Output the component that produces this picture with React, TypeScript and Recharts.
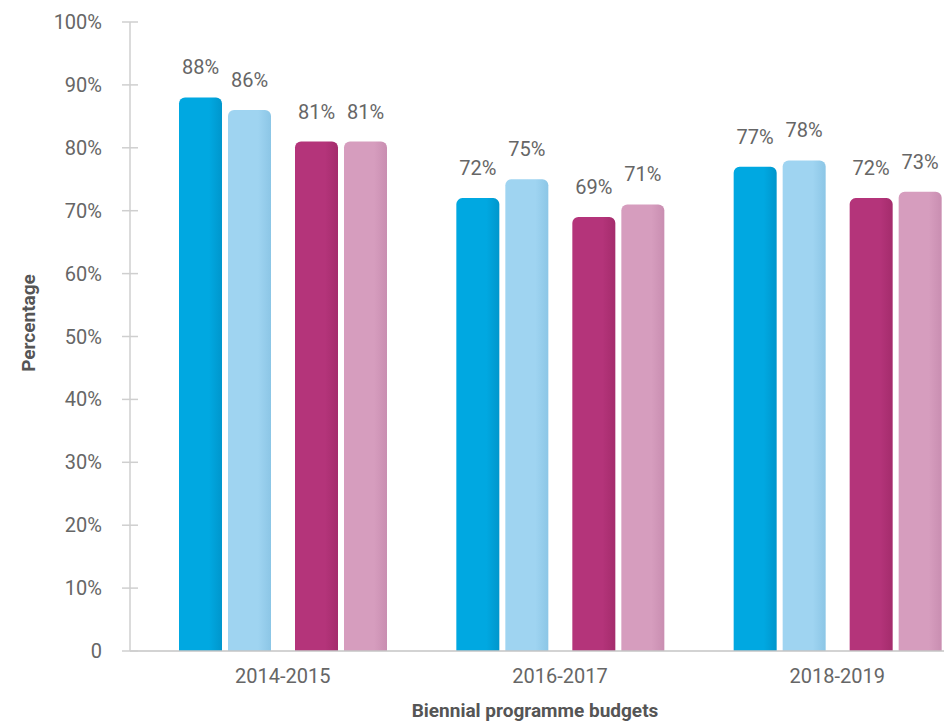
import React from "react"
import { BarChart, Bar, XAxis, YAxis, LabelList, Rectangle } from "recharts"

const categories = ["2014-2015", "2016-2017", "2018-2019"]
const seriesBlue = [88, 72, 77]
const seriesLightBlue = [86, 75, 78]
const seriesMagenta = [81, 69, 72]
const seriesPink = [81, 71, 73]
const yTicks = [0, 10, 20, 30, 40, 50, 60, 70, 80, 90, 100]

const data = categories.map((name, i) => ({
  name,
  blue: seriesBlue[i],
  lightBlue: seriesLightBlue[i],
  magenta: seriesMagenta[i],
  pink: seriesPink[i],
}))

const FONT = "Roboto, 'Liberation Sans', sans-serif"
const TEXT = "#666666"

const series = [
  { key: "blue", color: "#00a8e1", dark: "#0096cc", shift: 0 },
  { key: "lightBlue", color: "#9fd4f1", dark: "#8cc6e6", shift: -6 },
  { key: "magenta", color: "#b4347a", dark: "#a42c6c", shift: 6 },
  { key: "pink", color: "#d69dbe", dark: "#c98eb1", shift: 0 },
]

function YTick(props: any) {
  const { x, y, payload } = props
  return (
    <g>
      <line x1={x + 20} x2={x + 36} y1={y} y2={y} stroke="#cfcfcf" strokeWidth={1.5} />
      <text x={x} y={y} dy="0.35em" textAnchor="end" fill={TEXT} fontSize={20} fontFamily={FONT}>
        {payload.value === 0 ? "0" : `${payload.value}%`}
      </text>
    </g>
  )
}

function XTick(props: any) {
  const { x, y, payload } = props
  return (
    <text x={x} y={y} dy="0.35em" textAnchor="middle" fill={TEXT} fontSize={20} fontFamily={FONT}>
      {payload.value}
    </text>
  )
}

function shiftedShape(shift: number, fill: string) {
  return (props: any) => (
    <Rectangle
      x={props.x + shift}
      y={props.y}
      width={props.width}
      height={props.height}
      radius={[6, 6, 0, 0]}
      fill={fill}
    />
  )
}

function valueLabel(shift: number) {
  return (props: any) => {
    const { x, y, width, value } = props
    return (
      <text x={x + shift + width / 2} y={y - 23} textAnchor="middle" fill={TEXT} fontSize={20} fontFamily={FONT}>
        {`${value}%`}
      </text>
    )
  }
}

export default function App() {
  return (
    <div style={{ position: "absolute", left: 0, top: 0, width: 944, height: 724, overflow: "hidden", background: "#fff" }}>
      <BarChart
        width={980}
        height={724}
        data={data}
        margin={{ top: 22, right: 4, left: 0, bottom: 0 }}
        barSize={43}
        barGap={12}
      >
        <defs>
          {series.map((s) => (
            <linearGradient key={s.key} id={`grad-${s.key}`} x1="0" y1="0" x2="1" y2="0">
              <stop offset="0%" stopColor={s.color} />
              <stop offset="70%" stopColor={s.color} />
              <stop offset="100%" stopColor={s.dark} />
            </linearGradient>
          ))}
        </defs>
        <XAxis
          dataKey="name"
          height={73}
          padding={{ left: 14, right: 0 }}
          tickLine={false}
          axisLine={{ stroke: "#c4c4c4", strokeWidth: 1.5 }}
          tick={<XTick />}
          tickMargin={25}
          tickSize={0}
          label={{
            content: () => (
              <text x={535} y={710} dy="0.35em" textAnchor="middle" fill="#555" fontSize={19} fontWeight={700} fontFamily={FONT}>
                Biennial programme budgets
              </text>
            ),
          }}
        />
        <YAxis
          width={130}
          domain={[0, 100]}
          ticks={yTicks}
          interval={0}
          tickLine={false}
          tickSize={0}
          tickMargin={28}
          axisLine={{ stroke: "#cfcfcf", strokeWidth: 1.5 }}
          tick={<YTick />}
          label={{
            content: () => (
              <text
                x={28}
                y={323}
                dy="0.35em"
                textAnchor="middle"
                transform="rotate(-90 28 323)"
                fill="#555"
                fontSize={19}
                fontWeight={700}
                fontFamily={FONT}
              >
                Percentage
              </text>
            ),
          }}
        />
        {series.map((s) => (
          <Bar
            key={s.key}
            dataKey={s.key}
            fill={s.color}
            isAnimationActive={false}
            shape={shiftedShape(s.shift, `url(#grad-${s.key})`)}
          >
            <LabelList dataKey={s.key} content={valueLabel(s.shift)} />
          </Bar>
        ))}
      </BarChart>
    </div>
  )
}
